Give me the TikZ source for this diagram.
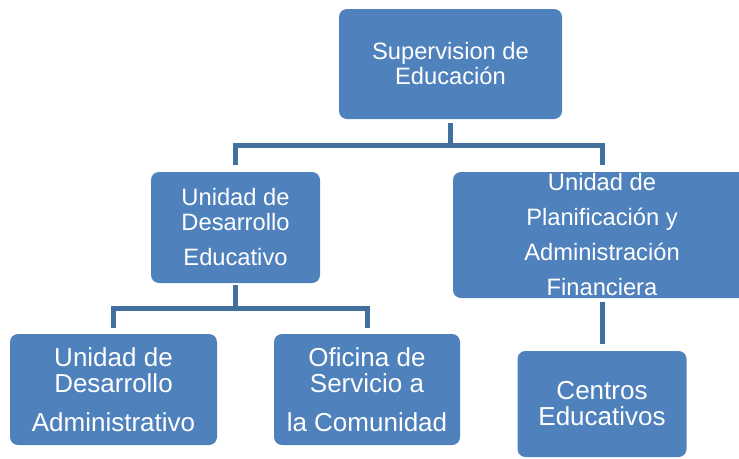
\documentclass[tikz,border=0pt]{standalone}
\usepackage{fontspec}
\setmainfont{Liberation Sans}
\definecolor{boxblue}{HTML}{4F81BD}
\definecolor{connblue}{HTML}{41709F}
\tikzset{
  orgbox/.style={fill=boxblue, draw=none, rounded corners=8pt, inner sep=0pt,
    text=white, align=center},
  smallfont/.style={font=\fontsize{23.7}{25}\selectfont},
  bigfont/.style={font=\fontsize{26}{26}\selectfont},
  conn/.style={draw=connblue, line width=5pt, line join=miter}
}
\begin{document}
\begin{tikzpicture}[x=1pt,y=-1pt]
\clip (0,0) rectangle (739,458);
\fill[white] (0,0) rectangle (739,458);
% boxes
\node[orgbox, smallfont, minimum width=223pt, minimum height=110pt] (top) at (450.5,64)
  {Supervision de\\Educación};
\node[orgbox, smallfont, minimum width=169pt, minimum height=111pt] (ml) at (235.5,227.5)
  {Unidad de\\Desarrollo\\[10pt]Educativo};
\node[orgbox, font=\fontsize{23.7}{35}\selectfont, minimum width=298pt, minimum height=126pt] (mr) at (602,235)
  {Unidad de\\Planificación y\\Administración\\Financiera};
\node[orgbox, bigfont, minimum width=207pt, minimum height=111pt] (bl) at (113.5,389.5)
  {Unidad de\\Desarrollo\\[13pt]Administrativo};
\node[orgbox, bigfont, minimum width=186pt, minimum height=111pt] (bm) at (367,389.5)
  {Oficina de\\Servicio a\\[13pt]la Comunidad};
\node[orgbox, bigfont, minimum width=169pt, minimum height=106pt] (br) at (602,404)
  {Centros\\Educativos};
% connectors
\coordinate (b1) at (0,145.5);
\coordinate (b2) at (0,308.5);
\draw[conn] ([yshift=-4pt]top.south) -- (top.south |- b1);
\draw[conn] ([yshift=7pt]ml.north) -- (ml.north |- b1) -- (mr.north |- b1) -- ([yshift=7pt]mr.north);
\draw[conn] ([yshift=-2pt]ml.south) -- (ml.south |- b2);
\draw[conn] ([yshift=6pt]bl.north) -- (bl.north |- b2) -- (bm.north |- b2) -- ([yshift=6pt]bm.north);
\draw[conn] ([yshift=-4pt]mr.south) -- ([yshift=7pt]br.north);
\end{tikzpicture}
\end{document}
